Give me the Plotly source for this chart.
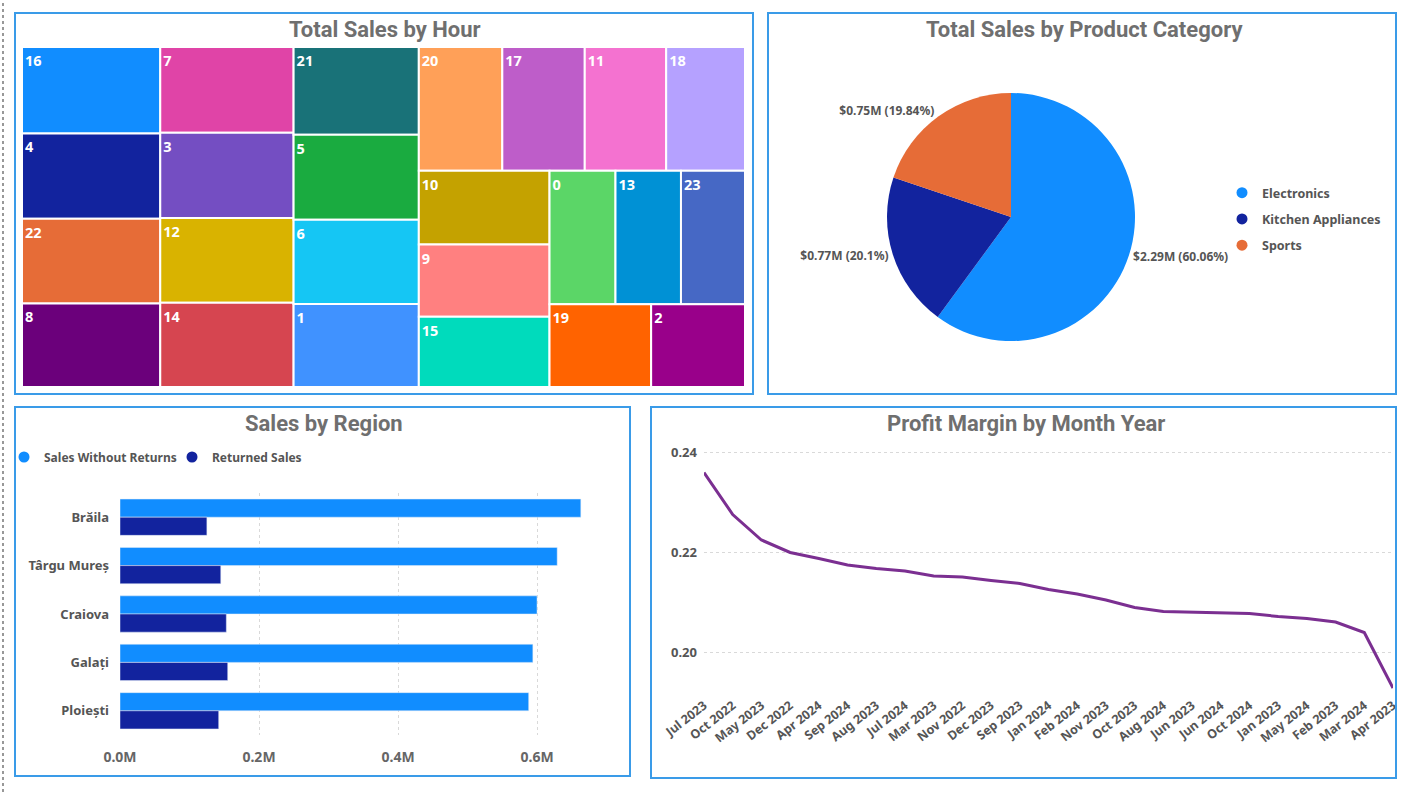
import plotly.graph_objects as go

W, H = 1414, 792

# ---------------- data ----------------
hours = ["16", "4", "22", "8", "7", "3", "12", "14", "21", "5", "6", "1",
         "20", "17", "11", "18", "10", "9", "15", "0", "13", "23", "19", "2"]
hour_sales_k = [186, 184, 182, 180, 178, 177, 176, 175, 171, 166, 164, 162,
                161, 159, 157, 152, 150, 147, 143, 137, 136, 133, 131, 121]
hour_colors = ["#118DFF", "#12239E", "#E66C37", "#6B007B", "#E044A7", "#744EC2",
               "#D9B300", "#D64550", "#197278", "#1AAB40", "#15C6F4", "#4092FF",
               "#FFA058", "#BE5DC9", "#F472D0", "#B5A1FF", "#C4A200", "#FF8080",
               "#00DBBC", "#5BD667", "#0091D5", "#4668C5", "#FF6300", "#99008A"]

categories = ["Electronics", "Kitchen Appliances", "Sports"]
category_sales_m = [2.2883, 0.7658, 0.7559]
category_text = ["$2.29M (60.06%)", "$0.77M (20.1%)", "$0.75M (19.84%)"]
category_colors = ["#118DFF", "#12239E", "#E66C37"]

regions = ["Brăila", "Târgu Mureș", "Craiova", "Galați", "Ploiești"]
sales_without_returns_m = [0.663, 0.629, 0.600, 0.594, 0.588]
returned_sales_m = [0.125, 0.145, 0.153, 0.155, 0.142]
bar_tickvals = [0.0, 0.2, 0.4, 0.6]
bar_ticktext = ["0.0M", "0.2M", "0.4M", "0.6M"]

months = ["Jul 2023", "Oct 2022", "May 2023", "Dec 2022", "Apr 2024", "Sep 2024",
          "Aug 2023", "Jul 2024", "Mar 2023", "Nov 2022", "Dec 2023", "Sep 2023",
          "Jan 2024", "Feb 2024", "Nov 2023", "Oct 2023", "Aug 2024", "Jun 2023",
          "Jun 2024", "Oct 2024", "Jan 2023", "May 2024", "Feb 2023", "Mar 2024",
          "Apr 2023"]
profit_margin = [0.2359, 0.2275, 0.2224, 0.2199, 0.2187, 0.2174, 0.2167, 0.2162,
                 0.2152, 0.2150, 0.2143, 0.2137, 0.2125, 0.2116, 0.2104, 0.2089,
                 0.2081, 0.2080, 0.2078, 0.2077, 0.2071, 0.2067, 0.2060, 0.2039,
                 0.1928]

# ---------------- helpers ----------------
def px(x):
    return x / W

def py(y):
    return 1 - y / H

TITLE_FONT = dict(family="Roboto", size=22, color="#6f6f6f", weight="bold")
BORDER = "#3A9BE8"

fig = go.Figure()

# Treemap
fig.add_trace(go.Treemap(
    labels=hours,
    parents=[""] * len(hours),
    values=hour_sales_k,
    marker=dict(colors=hour_colors, line=dict(color="white", width=2),
                pad=dict(t=0, l=0, r=0, b=0)),
    tiling=dict(packing="squarify", squarifyratio=1.618034, pad=0),
    textinfo="label",
    textposition="top left",
    textfont=dict(family="Noto Sans", size=14.5, color="white", weight="bold"),
    pathbar=dict(visible=False),
    sort=True,
    domain=dict(x=[px(22), px(745)], y=[py(387), py(47)]),
    hoverinfo="label+value",
))

# Pie
fig.add_trace(go.Pie(
    labels=categories,
    values=category_sales_m,
    text=category_text,
    textinfo="text",
    textposition="outside",
    textfont=dict(family="Noto Sans", size=12, color="#555555", weight="bold"),
    marker=dict(colors=category_colors),
    sort=False,
    direction="clockwise",
    rotation=0,
    showlegend=False,
    automargin=False,
    domain=dict(x=[px(887), px(1135)], y=[py(341), py(93)]),
))

# Bars
fig.add_trace(go.Bar(y=regions, x=sales_without_returns_m, orientation="h",
                     name="Sales Without Returns", marker_color="#118DFF",
                     showlegend=False, xaxis="x", yaxis="y"))
fig.add_trace(go.Bar(y=regions, x=returned_sales_m, orientation="h",
                     name="Returned Sales", marker_color="#12239E",
                     showlegend=False, xaxis="x", yaxis="y"))

# legend entries with circle markers (no data points)
for name, col in zip(categories, category_colors):
    fig.add_trace(go.Scatter(x=[None], y=[None], mode="markers", name=name,
                             marker=dict(color=col, size=11, symbol="circle"),
                             legend="legend", legendgroup=name,
                             xaxis="x", yaxis="y", hoverinfo="skip"))
for name, col in [("Sales Without Returns", "#118DFF"), ("Returned Sales", "#12239E")]:
    fig.add_trace(go.Scatter(x=[None], y=[None], mode="markers", name=name,
                             marker=dict(color=col, size=11, symbol="circle"),
                             legend="legend2", xaxis="x", yaxis="y",
                             hoverinfo="skip"))

# Line
fig.add_trace(go.Scatter(x=months, y=profit_margin, mode="lines",
                         line=dict(color="#7B2F91", width=3),
                         showlegend=False, xaxis="x2", yaxis="y2"))

# ---------------- layout ----------------
shapes = []
for (x0, y0, x1, y1) in [(15, 13, 753, 394), (768, 13, 1396, 394),
                         (15, 407, 630, 776), (651, 407, 1396, 778)]:
    shapes.append(dict(type="rect", xref="paper", yref="paper",
                       x0=px(x0), x1=px(x1), y0=py(y1), y1=py(y0),
                       line=dict(color=BORDER, width=2), fillcolor="rgba(0,0,0,0)"))
shapes.append(dict(type="line", xref="paper", yref="paper",
                   x0=px(3), x1=px(3), y0=0, y1=1,
                   line=dict(color="#777777", width=1.5, dash="dot")))

annotations = []
for text, x, y in [("Total Sales by Hour", 385, 29),
                   ("Total Sales by Product Category", 1084, 30),
                   ("Sales by Region", 324, 423),
                   ("Profit Margin by Month Year", 1026, 423)]:
    annotations.append(dict(text=text, x=px(x), y=py(y), xref="paper", yref="paper",
                            xanchor="center", yanchor="middle", showarrow=False,
                            font=TITLE_FONT))

fig.update_layout(
    width=W, height=H,
    margin=dict(l=0, r=0, t=0, b=0, autoexpand=False),
    paper_bgcolor="white",
    plot_bgcolor="white",
    barmode="group",
    bargap=0.25,
    bargroupgap=0.0,
    shapes=shapes,
    annotations=annotations,
    xaxis=dict(domain=[px(120), px(600)], range=[0, 0.6906],
               tickvals=bar_tickvals, ticktext=bar_ticktext,
               showgrid=True, gridcolor="#d9d9d9", griddash="dot", gridwidth=1,
               zeroline=False, showline=False, ticks="",
               tickfont=dict(family="Noto Sans", size=14, color="#666666", weight="bold"),
               ticklabelstandoff=12, fixedrange=True, automargin=False),
    yaxis=dict(domain=[py(735), py(493)], type="category",
               categoryorder="array", categoryarray=regions,
               autorange="reversed",
               showgrid=False, zeroline=False, showline=False, ticks="",
               tickfont=dict(family="Noto Sans", size=13, color="#555555", weight="bold"),
               ticklabelstandoff=10, automargin=False),
    xaxis2=dict(domain=[px(704), px(1393)], type="category",
                showgrid=False, zeroline=False, showline=False, ticks="",
                tickangle=-38,
                tickfont=dict(family="Noto Sans", size=12.5, color="#555555", weight="bold"),
                anchor="y2", automargin=False),
    yaxis2=dict(domain=[py(695), py(445)], range=[0.1914, 0.2414],
                dtick=0.02, tick0=0.20, tickformat=".2f",
                showgrid=True, gridcolor="#d9d9d9", griddash="dot", gridwidth=1,
                zeroline=False, showline=False, ticks="",
                tickfont=dict(family="Noto Sans", size=13, color="#555555", weight="bold"),
                ticklabelstandoff=6, anchor="x2", automargin=False),
    legend=dict(x=px(1222), y=py(178), xanchor="left", yanchor="top",
                orientation="v", font=dict(family="Noto Sans", size=12.5, color="#555555", weight="bold"),
                itemwidth=30, tracegroupgap=7, bgcolor="rgba(0,0,0,0)"),
    legend2=dict(x=px(4), y=py(457), xanchor="left", yanchor="middle",
                 orientation="h", font=dict(family="Noto Sans", size=12, color="#555555", weight="bold"),
                 itemwidth=30, entrywidth=123, entrywidthmode="pixels",
                 bgcolor="rgba(0,0,0,0)"),
)

fig.write_html("out.html",
               config={"displayModeBar": False},
               post_script="document.body.style.margin='0px';document.body.style.overflow='hidden';")
